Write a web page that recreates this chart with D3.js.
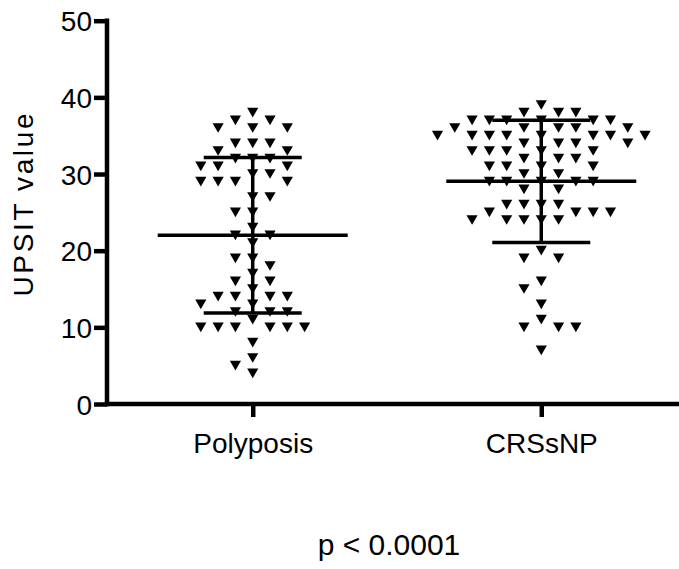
<!DOCTYPE html>
<html>
<head>
<meta charset="utf-8">
<script src="https://cdn.jsdelivr.net/npm/d3@7"></script>
<style>
  html, body { margin: 0; padding: 0; background: #fff; }
  svg text { font-family: "Liberation Sans", Arial, Helvetica, sans-serif; fill: #000; }
</style>
</head>
<body>
<svg id="chart" width="679" height="569"></svg>
<script>
// UPSIT scores per group
const categories = ["Polyposis", "CRSsNP"];
const polyposisValues = [
  38, 37, 37, 36, 36, 36, 34, 34, 34, 33, 33, 32, 32, 32, 31, 31, 31, 30, 30,
  29, 29, 29, 29, 27, 27, 25, 25, 23, 22, 22, 21, 19, 19, 18, 17, 16, 16, 15,
  14, 14, 14, 14, 13, 13, 12, 12, 12, 11, 10, 10, 10, 10, 10, 10, 8, 6, 5, 4
];
const crssnpValues = [
  39, 38, 38, 38, 37, 37, 37, 37, 37, 37, 36, 36, 36, 36, 36,
  35, 35, 35, 35, 35, 35, 35, 35, 34, 34, 34, 34, 33, 33, 33, 33, 33,
  32, 32, 32, 31, 31, 31, 31, 30, 30, 29, 29, 29, 29, 29, 28, 28,
  26, 26, 26, 26, 25, 25, 25, 25, 24, 24, 24, 24, 24,
  20, 19, 19, 16, 15, 13, 11, 10, 10, 10, 7
];
const yTicks = [0, 10, 20, 30, 40, 50];
const yLabel = "UPSIT value";
const footnote = "p < 0.0001";

const seriesValues = [polyposisValues, crssnpValues];

const svg = d3.select("#chart");
const axisLeftX = 107, axisBottomY = 404;

const y = d3.scaleLinear().domain([0, 50]).range([axisBottomY, 20.7]);
const x = d3.scalePoint().domain(categories).range([axisLeftX, 687]).padding(0.505);

// Spread equal / neighbouring scores sideways so markers do not overlap
const colStep = 17.3;
function swarm(values) {
  const groups = d3.groups(values, v => v).sort((a, b) => b[0] - a[0]);
  const placed = [];
  groups.forEach(([v, arr], gi) => {
    const blocked = new Set(placed.filter(p => Math.abs(p.v - v) <= 1).map(p => p.slot));
    const dir = gi % 2 ? 1 : -1;
    let k = 0;
    arr.forEach(() => {
      let s;
      for (;;) {
        s = k === 0 ? 0 : (k % 2 === 1 ? dir * Math.ceil(k / 2) : -dir * Math.ceil(k / 2));
        k++;
        if (!blocked.has(s)) break;
      }
      blocked.add(s);
      placed.push({ v, slot: s });
    });
  });
  return placed;
}

// Downward triangle centred on its bounding box
const downTriangle = {
  draw(ctx, size) {
    const w = Math.sqrt(size / 0.433);
    const h = w * 0.866;
    ctx.moveTo(-w / 2, -h / 2);
    ctx.lineTo(w / 2, -h / 2);
    ctx.lineTo(0, h / 2);
    ctx.closePath();
  }
};
const marker = d3.symbol().type(downTriangle).size(54);

const plot = svg.append("g");
categories.forEach((cat, i) => {
  const cx = x(cat);
  const pts = swarm(seriesValues[i]);
  plot.append("g").selectAll("path")
    .data(pts)
    .join("path")
    .attr("d", marker)
    .attr("transform", d => `translate(${cx + d.slot * colStep},${y(d.v)})`)
    .attr("fill", "#000");

  const m = d3.mean(seriesValues[i]);
  const sd = d3.deviation(seriesValues[i]);
  const g = plot.append("g").attr("stroke", "#000").attr("stroke-width", 3.5).attr("stroke-linecap", "butt");
  g.append("line").attr("x1", cx).attr("x2", cx).attr("y1", y(m + sd)).attr("y2", y(m - sd));
  g.append("line").attr("x1", cx - 95).attr("x2", cx + 95).attr("y1", y(m)).attr("y2", y(m));
  g.append("line").attr("x1", cx - 49).attr("x2", cx + 49).attr("y1", y(m + sd)).attr("y2", y(m + sd));
  g.append("line").attr("x1", cx - 49).attr("x2", cx + 49).attr("y1", y(m - sd)).attr("y2", y(m - sd));
});

// Axes
const yAxis = svg.append("g")
  .attr("transform", `translate(${axisLeftX},0)`)
  .call(d3.axisLeft(y).tickValues(yTicks).tickSize(13).tickPadding(2).tickSizeOuter(0));
const xAxis = svg.append("g")
  .attr("transform", `translate(0,${axisBottomY})`)
  .call(d3.axisBottom(x).tickSize(13).tickPadding(16).tickSizeOuter(0));

[yAxis, xAxis].forEach(a => {
  a.select(".domain").attr("stroke", "#000").attr("stroke-width", 4.5);
  a.selectAll(".tick line").attr("stroke", "#000").attr("stroke-width", 4.5);
  a.selectAll("text").attr("font-size", 28).attr("fill", "#000")
    .attr("font-family", "'Liberation Sans', Arial, sans-serif");
});
// extend both axis lines so they meet cleanly at the corner
yAxis.select(".domain").attr("d", `M0,${y(50) - 2.2}V${axisBottomY + 2.2}`);
xAxis.select(".domain").attr("d", `M${axisLeftX - 2.2},0H${687}`);
yAxis.selectAll(".tick text").attr("dy", "0.36em");
xAxis.selectAll(".tick text").attr("dy", "0.71em");

svg.append("text")
  .attr("transform", `translate(33,205) rotate(-90)`)
  .attr("text-anchor", "middle")
  .attr("font-size", 28)
  .attr("textLength", 183)
  .attr("lengthAdjust", "spacing")
  .text(yLabel);

svg.append("text")
  .attr("x", 389)
  .attr("y", 555)
  .attr("text-anchor", "middle")
  .attr("font-size", 30)
  .text(footnote);
</script>
</body>
</html>
